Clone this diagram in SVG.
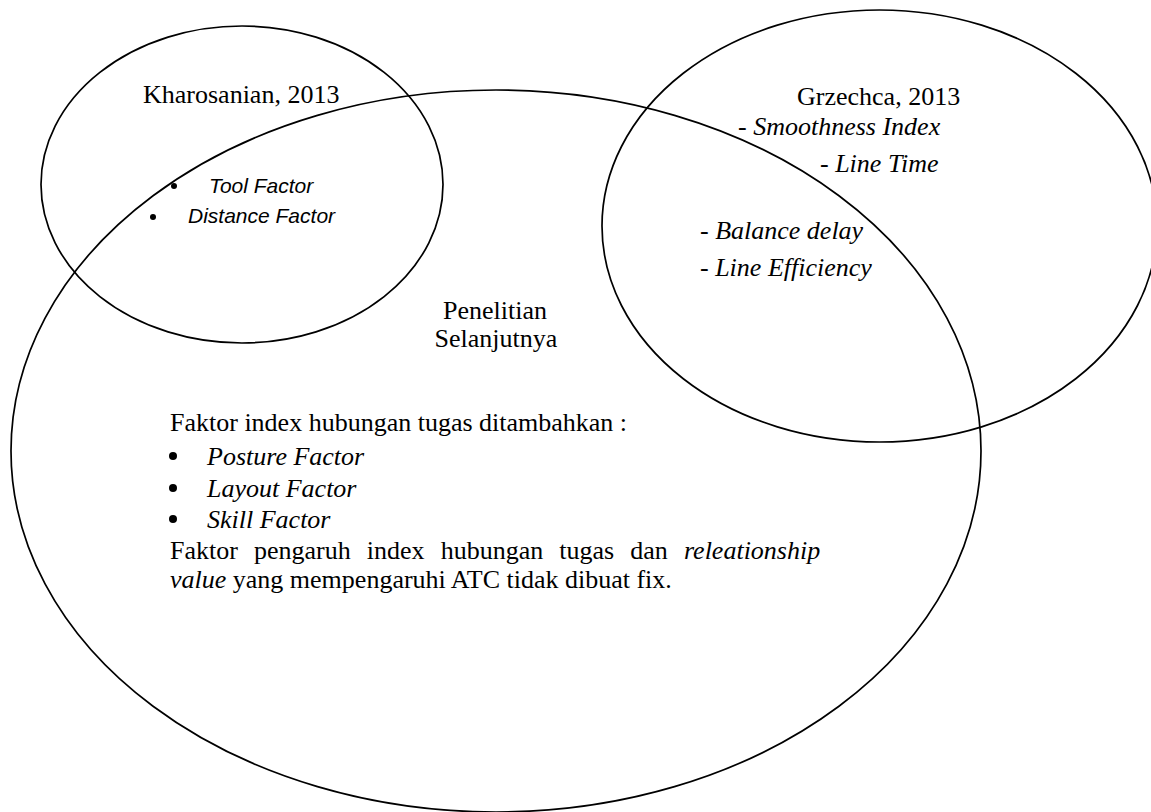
<svg xmlns="http://www.w3.org/2000/svg" width="1151" height="812" viewBox="0 0 1151 812">
  <style>
    .ring { fill: none; stroke: #000; stroke-width: 1.7; }
    .serif { font-family: "Liberation Serif", "Times New Roman", serif; font-size: 26px; fill: #000; }
    .it { font-style: italic; }
    .sans { font-family: "Liberation Sans", Arial, sans-serif; font-size: 21px; font-style: italic; fill: #000; }
    .dot { fill: #000; }
  </style>
  <rect x="0" y="0" width="1151" height="812" fill="#fff"/>

  <!-- outlines of the three sets -->
  <g id="connectors">
    <ellipse id="ring-kharosanian" class="ring" cx="242" cy="184.5" rx="201" ry="158.5"/>
    <ellipse id="ring-grzechca" class="ring" cx="879.5" cy="226" rx="277.5" ry="216"/>
    <ellipse id="ring-penelitian" class="ring" cx="496" cy="451" rx="485" ry="361"/>
  </g>

  <!-- Kharosanian, 2013 -->
  <g id="node-kharosanian">
    <text class="serif" x="143" y="103">Kharosanian, 2013</text>
    <circle class="dot" cx="174" cy="186" r="3"/>
    <text class="sans" x="209" y="193">Tool Factor</text>
    <circle class="dot" cx="153" cy="217" r="3"/>
    <text class="sans" x="188" y="223">Distance Factor</text>
  </g>

  <!-- Grzechca, 2013 -->
  <g id="node-grzechca">
    <text class="serif" x="797" y="105">Grzechca, 2013</text>
    <text class="serif it" x="738" y="135">- Smoothness Index</text>
    <text class="serif it" x="820" y="172">- Line Time</text>
    <text class="serif it" x="700" y="239">- Balance delay</text>
    <text class="serif it" x="700" y="276">- Line Efficiency</text>
  </g>

  <!-- Penelitian Selanjutnya -->
  <g id="node-penelitian">
    <text class="serif" x="495" y="319" text-anchor="middle">Penelitian</text>
    <text class="serif" x="496" y="347" text-anchor="middle">Selanjutnya</text>
    <text class="serif" x="170" y="431">Faktor index hubungan tugas ditambahkan :</text>
    <circle class="dot" cx="173" cy="456" r="4"/>
    <text class="serif it" x="207" y="465">Posture Factor</text>
    <circle class="dot" cx="173" cy="488" r="4"/>
    <text class="serif it" x="207" y="497">Layout Factor</text>
    <circle class="dot" cx="173" cy="519" r="4"/>
    <text class="serif it" x="207" y="528">Skill Factor</text>
    <text class="serif" x="170" y="559" style="word-spacing:9.6px">Faktor pengaruh index hubungan tugas dan <tspan class="it">releationship</tspan></text>
    <text class="serif" x="170" y="588"><tspan class="it">value</tspan> yang mempengaruhi ATC tidak dibuat fix.</text>
  </g>
</svg>
